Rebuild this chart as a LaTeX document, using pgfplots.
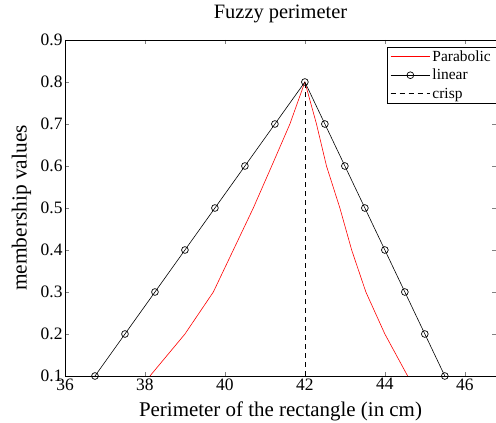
\documentclass[border=0pt]{standalone}
\usepackage{fontspec}
\setmainfont{Liberation Serif}
\usepackage{pgfplots}
\pgfplotsset{compat=1.18}
\begin{document}
\begin{tikzpicture}
\begin{axis}[
  scale only axis,
  width=431bp, height=336bp,
  xmin=36, xmax=46.78, ymin=0.1, ymax=0.9,
  xtick={36,38,...,46},
  ytick={0.1,0.2,...,0.9},
  yticklabel style={/pgf/number format/fixed,/pgf/number format/precision=1, /pgf/number format/fixed zerofill, xshift=1bp},
  xticklabel style={yshift=1bp},
  /pgf/number format/assume math mode=true,
  tick align=inside,
  tick pos=both,
  major tick length=4bp,
  tick label style={font=\fontsize{17.5}{19}\selectfont},
  title={Fuzzy perimeter},
  xlabel={Perimeter of the rectangle (in cm)},
  ylabel={membership values},
  title style={font=\fontsize{20.5}{22}\selectfont, at={(axis description cs:0.5,1.06)}, anchor=center},
  xlabel style={font=\fontsize{21}{23}\selectfont, at={(axis description cs:0.5,-0.104)}, anchor=center},
  ylabel style={font=\fontsize{21.5}{23}\selectfont, at={(axis description cs:-0.101,0.5)}, anchor=center},
  axis line style={line width=0.8pt},
  legend image code/.code={\draw[mark repeat=2,mark phase=2,#1] plot coordinates {(0cm,0cm) (0.7cm,0cm) (1.4cm,0cm)};},
  legend style={at={(1,0.98)}, anchor=north east, font=\fontsize{15.5}{16}\selectfont,
    inner xsep=3bp, inner ysep=1.5bp, row sep=2.5bp},
  legend cell align=left,
]
\addplot[red, line width=0.6pt] coordinates {
(38.125,0.1) (39.0,0.2) (39.71,0.3) (40.21,0.4) (40.71,0.5) (41.17,0.6) (41.625,0.7) (42,0.8)
(42.29,0.7) (42.54,0.6) (42.875,0.5) (43.17,0.4) (43.525,0.3) (44.0,0.2) (44.57,0.1)};
\addlegendentry{Parabolic}
\addplot[black, line width=0.6pt, mark=o, mark size=3.4pt, mark options={line width=0.7pt}] coordinates {
(36.75,0.1) (37.5,0.2) (38.25,0.3) (39,0.4) (39.75,0.5) (40.5,0.6) (41.25,0.7) (42,0.8)
(42.5,0.7) (43,0.6) (43.5,0.5) (44,0.4) (44.5,0.3) (45,0.2) (45.5,0.1)};
\addlegendentry{linear}
\addplot[black, dashed, line width=0.6pt, dash pattern=on 5bp off 4bp] coordinates {(42,0.1) (42,0.8)};
\addlegendentry{crisp}
\end{axis}
\pgfresetboundingbox
\path (current axis.south west) ++(-65bp,-47bp) coordinate (bl);
\path (current axis.north east) ++(0,40bp) coordinate (tr);
\useasboundingbox (bl) rectangle (tr);
\end{tikzpicture}
\end{document}
